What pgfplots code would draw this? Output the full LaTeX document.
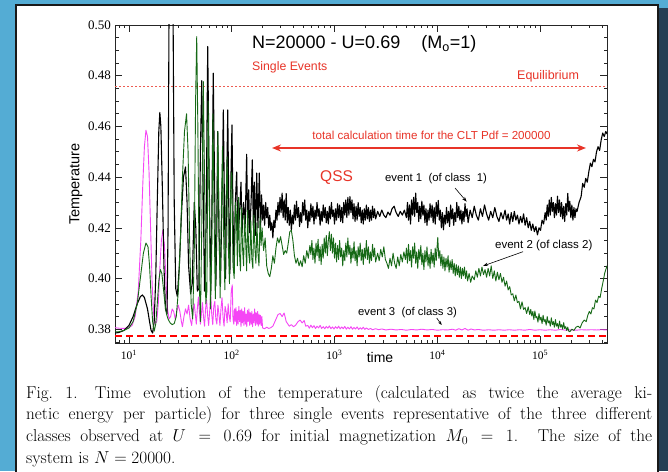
\documentclass[border=0pt]{standalone}
\usepackage{fontspec}
\usepackage{pgfplots}
\pgfplotsset{compat=1.18}
\usetikzlibrary{arrows.meta}
\newfontfamily\arial{Liberation Sans}
\newfontfamily\timesf{Liberation Serif}
\definecolor{bgblue}{RGB}{84,172,212}
\definecolor{shadowc}{RGB}{38,62,84}
\definecolor{qred}{RGB}{232,52,40}
\definecolor{dgreen}{RGB}{22,105,22}
\definecolor{mag}{RGB}{245,70,245}
\begin{document}
\begin{tikzpicture}[x=1pt,y=1pt]
\useasboundingbox (0pt,0pt) rectangle (668pt,471pt);
\fill[bgblue] (0pt,0pt) rectangle (668pt,471pt);
\fill[shadowc] (656pt,0pt) rectangle (668pt,463pt);
\fill[white] (16pt,0pt) rectangle (658pt,466pt);
\draw[black!90, line width=1.6pt] (16pt,-2pt) -- (16pt,466pt) -- (658pt,466pt) -- (658pt,-2pt);
\begin{axis}[
  at={(115pt,128pt)}, anchor=south west, scale only axis,
  width=492pt, height=318pt,
  xmin=0.8637, xmax=5.652, ymin=0.37456, ymax=0.50,
  axis line style={line width=0.7pt, black!85},
  tick align=inside,
  major tick length=7pt, minor tick length=3.5pt,
  every tick/.style={black!85, line width=0.6pt},
  xtick={1,2,3,4,5},
  xticklabels={{10\textsuperscript{1}},{10\textsuperscript{2}},{10\textsuperscript{3}},{10\textsuperscript{4}},{10\textsuperscript{5}}},
  minor xtick={0.90309,0.95424,
    1.30103,1.47712,1.60206,1.69897,1.77815,1.84510,1.90309,1.95424,
    2.30103,2.47712,2.60206,2.69897,2.77815,2.84510,2.90309,2.95424,
    3.30103,3.47712,3.60206,3.69897,3.77815,3.84510,3.90309,3.95424,
    4.30103,4.47712,4.60206,4.69897,4.77815,4.84510,4.90309,4.95424,
    5.30103,5.47712,5.60206},
  ytick={0.38,0.40,0.42,0.44,0.46,0.48,0.50},
  yticklabels={0.38,0.40,0.42,0.44,0.46,0.48,0.50},
  minor ytick={0.375,0.385,0.39,0.395,0.405,0.41,0.415,0.425,0.43,0.435,0.445,0.45,0.455,0.465,0.47,0.475,0.485,0.49,0.495},
  xticklabel style={font=\timesf\fontsize{11.5}{12}\selectfont, inner sep=0pt, yshift=-7pt},
  yticklabel style={font=\timesf\fontsize{13}{14}\selectfont, inner sep=0pt, xshift=-4pt},
  xlabel={time},
  xlabel style={at={(axis description cs:0.5386,0)}, anchor=base, yshift=-19.5pt, font=\arial\fontsize{14}{16}\selectfont},
  ylabel={Temperature},
  ylabel style={at={(axis description cs:-0.0793,0.5)}, anchor=center, font=\arial\fontsize{14.5}{16}\selectfont},
  every axis plot/.append style={line join=round},
]
% equilibrium
\addplot[color=qred!80, line width=0.6pt, dash pattern=on 1.5pt off 2.5pt] coordinates {(0.8637,0.476)(5.652,0.476)};
% event 3 (magenta)
\addplot[mag, line width=0.9pt] coordinates {
(0.864,0.3806)(0.90,0.3804)(0.95,0.3803)(1.00,0.3806)(1.03,0.3815)(1.06,0.3850)(1.09,0.3950)(1.115,0.4150)(1.135,0.4380)(1.15,0.4520)(1.165,0.4585)(1.18,0.4560)(1.195,0.4420)(1.21,0.4200)(1.225,0.3980)(1.24,0.3860)(1.255,0.3822)(1.27,0.3830)(1.285,0.3900)(1.30,0.4040)(1.315,0.4150)(1.33,0.4190)(1.345,0.4130)(1.36,0.3990)(1.375,0.3880)(1.39,0.3840)(1.405,0.3850)(1.42,0.3880)(1.435,0.3870)(1.45,0.3840)(1.465,0.3870)(1.48,0.3895)(1.495,0.3870)(1.51,0.3830)(1.52,0.3810)(1.535,0.3850)(1.55,0.3880)(1.565,0.3860)(1.58,0.3895)(1.595,0.3840)(1.61,0.3815)(1.62,0.3860)(1.635,0.3900)(1.645,0.3860)(1.655,0.3820)(1.665,0.3880)(1.675,0.3927)(1.685,0.3870)(1.695,0.3820)(1.705,0.3860)(1.715,0.3905)(1.725,0.3850)(1.735,0.3812)(1.745,0.3880)(1.755,0.3915)(1.765,0.3855)(1.775,0.3815)(1.785,0.3870)(1.795,0.3935)(1.805,0.3860)(1.815,0.3818)(1.825,0.3890)(1.835,0.3910)(1.845,0.3840)(1.855,0.3820)(1.865,0.3895)(1.875,0.3860)(1.885,0.3815)(1.895,0.3880)(1.905,0.3925)(1.915,0.3850)(1.925,0.3812)(1.935,0.3890)(1.945,0.3870)(1.955,0.3825)(1.965,0.3900)(1.975,0.3850)(1.985,0.3830)(1.995,0.3950)(2.005,0.3975)(2.012,0.3840)(2.02,0.3820)(2.027,0.3880)(2.034,0.3830)(2.041,0.3885)(2.048,0.3815)(2.055,0.3870)(2.062,0.3820)(2.069,0.3890)(2.076,0.3830)(2.083,0.3875)(2.09,0.3810)(2.097,0.3880)(2.104,0.3825)(2.111,0.3870)(2.118,0.3815)(2.125,0.3885)(2.132,0.3820)(2.139,0.3860)(2.146,0.3810)(2.153,0.3875)(2.16,0.3830)(2.167,0.3880)(2.174,0.3815)(2.181,0.3865)(2.188,0.3820)(2.195,0.3870)(2.202,0.3810)(2.209,0.3860)(2.216,0.3825)(2.223,0.3880)(2.23,0.3815)(2.237,0.3865)(2.244,0.3820)(2.251,0.3870)(2.258,0.3812)(2.265,0.3860)(2.272,0.3820)(2.279,0.3855)(2.286,0.3815)(2.293,0.3850)(2.30,0.3805)(2.32,0.3802)(2.34,0.3808)(2.36,0.3803)(2.38,0.3806)(2.40,0.3812)(2.42,0.3830)(2.45,0.3858)(2.47,0.3862)(2.49,0.3850)(2.51,0.3864)(2.53,0.3830)(2.56,0.3812)(2.58,0.3818)(2.60,0.3810)(2.62,0.3815)(2.645,0.3830)(2.665,0.3836)(2.685,0.3825)(2.705,0.3834)(2.72,0.3812)(2.74,0.3815)(2.755,0.3804)(2.77,0.3816)(2.785,0.3806)(2.80,0.3814)(2.815,0.3803)(2.83,0.3812)(2.845,0.3805)(2.86,0.3815)(2.875,0.3803)(2.89,0.3810)(2.905,0.3802)(2.92,0.3811)(2.935,0.3804)(2.95,0.3813)(2.965,0.3802)(2.98,0.3809)(2.995,0.3801)(3.01,0.3810)(3.025,0.3803)(3.04,0.3812)(3.055,0.3801)(3.07,0.3809)(3.085,0.3802)(3.10,0.3811)(3.115,0.3800)(3.13,0.3808)(3.145,0.3801)(3.16,0.3810)(3.175,0.3800)(3.19,0.3807)(3.205,0.3801)(3.22,0.3809)(3.235,0.3799)(3.25,0.3806)(3.265,0.3800)(3.28,0.3808)(3.295,0.3799)(3.31,0.3805)(3.33,0.3799)(3.35,0.3803)(3.37,0.3798)(3.40,0.3802)(3.43,0.3798)(3.46,0.3801)(3.50,0.3797)(3.55,0.3800)(3.60,0.3797)(3.65,0.3799)(3.70,0.3796)(3.75,0.3799)(3.80,0.3797)(3.85,0.3800)(3.90,0.3797)(3.95,0.3799)(4.00,0.3796)(4.05,0.3798)(4.10,0.3797)(4.15,0.3800)(4.18,0.3796)(4.21,0.3802)(4.24,0.3797)(4.27,0.3803)(4.30,0.3796)(4.33,0.3801)(4.36,0.3797)(4.40,0.3799)(4.45,0.3796)(4.50,0.3798)(4.55,0.3796)(4.60,0.3798)(4.65,0.3796)(4.70,0.3798)(4.75,0.3796)(4.80,0.3798)(4.85,0.3796)(4.90,0.3799)(4.95,0.3796)(5.00,0.3798)(5.05,0.3796)(5.10,0.3798)(5.15,0.3796)(5.20,0.3799)(5.25,0.3796)(5.30,0.3798)(5.35,0.3796)(5.40,0.3798)(5.45,0.3797)(5.50,0.3798)(5.55,0.3797)(5.60,0.3798)(5.652,0.3797)
};
% event 1 (black)
\addplot[black, line width=1.1pt] coordinates {
(0.864,0.3785)(0.90,0.3787)(0.95,0.3795)(1.00,0.3815)(1.04,0.3850)(1.08,0.3900)(1.11,0.3928)(1.13,0.3935)(1.15,0.3925)(1.18,0.3880)(1.20,0.3830)(1.215,0.3795)(1.23,0.3785)(1.245,0.3830)(1.26,0.4000)(1.275,0.4300)(1.29,0.4580)(1.30,0.4655)(1.31,0.4600)(1.325,0.4350)(1.34,0.4050)(1.355,0.3880)(1.37,0.3860)(1.38,0.4200)(1.39,0.5100)(1.41,0.5300)(1.428,0.5100)(1.44,0.4300)(1.455,0.3960)(1.47,0.3930)(1.49,0.4050)(1.51,0.4250)(1.53,0.4400)(1.55,0.4440)(1.565,0.4300)(1.58,0.4050)(1.60,0.3940)(1.615,0.3980)(1.635,0.4300)(1.65,0.4200)(1.665,0.3950)(1.68,0.3960)(1.695,0.4500)(1.708,0.4780)(1.72,0.4400)(1.735,0.3950)(1.75,0.4200)(1.766,0.4915)(1.78,0.4400)(1.795,0.3950)(1.805,0.4200)(1.82,0.4810)(1.835,0.4300)(1.845,0.3970)(1.855,0.4200)(1.863,0.4580)(1.875,0.4200)(1.89,0.3980)(1.905,0.4300)(1.918,0.4665)(1.93,0.4250)(1.94,0.4000)(1.95,0.4350)(1.961,0.4665)(1.972,0.4250)(1.982,0.4020)(1.992,0.4400)(2.002,0.4606)(2.012,0.4250)(2.022,0.4050)(2.035,0.4300)(2.048,0.4420)(2.06,0.4150)(2.075,0.4250)(2.09,0.4380)(2.10,0.4180)(2.115,0.4300)(2.13,0.4200)(2.145,0.4490)(2.155,0.4200)(2.165,0.4350)(2.175,0.4180)(2.188,0.4300)(2.20,0.4468)(2.21,0.4200)(2.22,0.4380)(2.23,0.4170)(2.243,0.4416)(2.255,0.4200)(2.268,0.4416)
(2.28,0.4200)(2.29,0.4330)(2.30,0.4230)(2.31,0.4290)(2.32,0.4210)(2.33,0.4300)(2.34,0.4240)(2.35,0.4280)(2.36,0.4200)(2.37,0.4250)(2.38,0.4190)(2.39,0.4220)(2.40,0.4160)(2.41,0.4230)(2.42,0.4200)(2.43,0.4270)(2.44,0.4230)(2.45,0.4300)(2.46,0.4250)(2.47,0.4320)(2.48,0.4260)(2.49,0.4337)(2.50,0.4240)(2.51,0.4310)(2.52,0.4230)(2.53,0.4335)(2.54,0.4220)(2.55,0.4280)(2.56,0.4210)(2.57,0.4270)(2.58,0.4190)(2.59,0.4250)(2.60,0.4215)(2.61,0.4290)(2.62,0.4230)(2.63,0.4305)(2.64,0.4240)(2.65,0.4280)(2.66,0.4205)(2.67,0.4260)(2.68,0.4220)(2.69,0.4300)(2.70,0.4250)(2.71,0.4310)(2.72,0.4230)(2.73,0.4270)(2.74,0.4200)(2.75,0.4265)(2.76,0.4225)(2.77,0.4295)(2.78,0.4240)(2.79,0.4285)(2.80,0.4215)(2.81,0.4270)(2.82,0.4235)(2.83,0.4300)(2.84,0.4245)(2.85,0.4275)(2.86,0.4210)(2.87,0.4265)(2.88,0.4225)(2.89,0.4290)(2.90,0.4240)(2.91,0.4280)(2.92,0.4220)(2.93,0.4265)(2.94,0.4215)(2.95,0.4285)(2.96,0.4235)(2.97,0.4300)(2.98,0.4245)(2.99,0.4270)(3.00,0.4215)(3.01,0.4275)(3.02,0.4230)(3.03,0.4295)(3.04,0.4240)(3.05,0.4290)(3.06,0.4225)(3.07,0.4280)(3.08,0.4220)(3.09,0.4300)(3.10,0.4250)(3.11,0.4310)(3.12,0.4240)(3.13,0.4320)(3.14,0.4250)(3.15,0.4323)(3.16,0.4260)(3.17,0.4310)(3.18,0.4235)(3.19,0.4295)(3.20,0.4225)(3.21,0.4285)(3.22,0.4230)(3.23,0.4300)(3.24,0.4245)(3.25,0.4280)(3.26,0.4220)(3.27,0.4270)(3.28,0.4215)(3.29,0.4275)(3.30,0.4230)(3.31,0.4290)(3.32,0.4235)(3.33,0.4280)(3.34,0.4225)(3.35,0.4270)(3.36,0.4230)(3.37,0.4285)(3.38,0.4240)(3.39,0.4275)(3.40,0.4235)
(3.42,0.4265)(3.44,0.4245)(3.46,0.4270)(3.48,0.4250)(3.50,0.4240)(3.52,0.4262)(3.54,0.4250)(3.56,0.4275)(3.58,0.4285)(3.60,0.4260)(3.62,0.4245)(3.64,0.4265)(3.66,0.4250)(3.68,0.4270)
(3.70,0.4240)(3.71,0.4300)(3.72,0.4230)(3.73,0.4290)(3.74,0.4215)(3.75,0.4310)(3.76,0.4250)(3.77,0.4320)(3.78,0.4245)(3.79,0.4337)(3.80,0.4260)(3.81,0.4300)(3.82,0.4225)(3.83,0.4285)(3.84,0.4235)(3.85,0.4305)(3.86,0.4250)(3.87,0.4290)(3.88,0.4220)(3.89,0.4275)(3.90,0.4210)(3.91,0.4270)(3.92,0.4230)(3.93,0.4295)
(3.94,0.4240)(3.95,0.4290)(3.96,0.4220)(3.97,0.4280)(3.98,0.4215)(3.99,0.4300)(4.00,0.4245)(4.01,0.4308)(4.02,0.4230)(4.03,0.4270)(4.04,0.4200)(4.05,0.4260)(4.06,0.4192)(4.07,0.4250)(4.08,0.4215)(4.09,0.4280)(4.10,0.4220)(4.11,0.4265)(4.12,0.4205)(4.13,0.4290)(4.14,0.4235)(4.15,0.4275)(4.16,0.4210)(4.17,0.4260)(4.18,0.4225)(4.19,0.4300)(4.20,0.4240)(4.21,0.4285)(4.22,0.4230)(4.23,0.4270)(4.24,0.4215)(4.25,0.4265)(4.26,0.4225)(4.27,0.4295)(4.28,0.4245)(4.29,0.4275)(4.30,0.4220)
(4.32,0.4270)(4.34,0.4240)(4.36,0.4285)(4.38,0.4250)(4.40,0.4230)(4.42,0.4275)(4.44,0.4245)(4.46,0.4290)(4.48,0.4255)(4.50,0.4230)(4.52,0.4265)(4.54,0.4240)(4.56,0.4280)(4.58,0.4245)(4.60,0.4225)(4.62,0.4260)(4.64,0.4235)
(4.66,0.4270)(4.675,0.4230)(4.69,0.4255)(4.705,0.4215)(4.72,0.4260)(4.735,0.4225)(4.75,0.4265)(4.765,0.4230)(4.78,0.4250)(4.795,0.4215)(4.81,0.4245)(4.825,0.4220)(4.84,0.4255)(4.855,0.4210)(4.87,0.4240)(4.885,0.4200)(4.90,0.4225)
(4.915,0.4190)(4.93,0.4215)(4.945,0.4185)(4.96,0.4205)(4.975,0.4172)(4.99,0.4200)(5.005,0.4190)(5.02,0.4230)(5.035,0.4215)
(5.05,0.4260)(5.06,0.4230)(5.07,0.4290)(5.08,0.4245)(5.09,0.4310)(5.10,0.4250)(5.11,0.4320)(5.12,0.4265)(5.13,0.4300)(5.14,0.4240)(5.15,0.4295)(5.16,0.4250)(5.17,0.4325)(5.18,0.4260)(5.19,0.4310)(5.20,0.4245)(5.21,0.4300)(5.22,0.4235)(5.23,0.4285)(5.24,0.4225)(5.25,0.4295)(5.26,0.4250)(5.27,0.4336)(5.28,0.4265)(5.29,0.4305)(5.30,0.4240)(5.31,0.4290)(5.32,0.4230)(5.33,0.4280)(5.34,0.4240)(5.35,0.4275)(5.36,0.4264)
(5.38,0.4300)(5.40,0.4323)(5.415,0.4375)(5.43,0.4360)(5.445,0.4395)(5.46,0.4380)(5.475,0.4421)(5.49,0.4455)(5.505,0.4441)(5.52,0.4470)(5.535,0.4460)(5.55,0.4500)(5.565,0.4520)(5.58,0.4505)(5.595,0.4546)(5.61,0.4574)(5.625,0.4560)(5.64,0.4580)(5.652,0.4570)
};
% event 2 (green)
\addplot[dgreen, line width=0.9pt] coordinates {
(0.864,0.3790)(0.90,0.3790)(0.95,0.3795)(1.00,0.3805)(1.04,0.3830)(1.08,0.3900)(1.11,0.4000)(1.14,0.4100)(1.165,0.4140)(1.185,0.4125)(1.20,0.4050)(1.215,0.3930)(1.23,0.3830)(1.245,0.3792)(1.26,0.3820)(1.275,0.3900)(1.29,0.3990)(1.305,0.4035)(1.32,0.4020)(1.335,0.3960)(1.35,0.3900)(1.365,0.3860)(1.38,0.3840)(1.40,0.3825)(1.42,0.3818)(1.44,0.3822)(1.46,0.3850)(1.48,0.3950)(1.50,0.4150)(1.52,0.4400)(1.54,0.4580)(1.56,0.4650)(1.575,0.4500)(1.59,0.4150)(1.605,0.3900)(1.62,0.3840)(1.635,0.4100)(1.648,0.4700)(1.659,0.4954)(1.67,0.4600)(1.683,0.4000)(1.695,0.3830)(1.708,0.4200)(1.723,0.4777)(1.735,0.4400)(1.747,0.3900)(1.758,0.3950)(1.77,0.4700)(1.782,0.4300)(1.793,0.3880)(1.805,0.4100)(1.817,0.4650)(1.828,0.4250)(1.84,0.3920)(1.852,0.4200)(1.865,0.4580)(1.876,0.4200)(1.887,0.3923)(1.898,0.4250)(1.91,0.4520)(1.922,0.4150)(1.933,0.3955)(1.944,0.4300)(1.955,0.4480)(1.967,0.4120)(1.978,0.3980)(1.99,0.4350)(2.00,0.4420)(2.012,0.4050)(2.024,0.4000)(2.035,0.4300)(2.045,0.4250)(2.055,0.4050)(2.065,0.4320)(2.075,0.4100)(2.085,0.4030)(2.095,0.4280)(2.105,0.4120)(2.115,0.4050)(2.125,0.4250)(2.135,0.4150)(2.145,0.4030)(2.155,0.4270)(2.165,0.4100)(2.175,0.4060)(2.185,0.4230)(2.195,0.4080)(2.205,0.4040)(2.215,0.4250)(2.225,0.4120)(2.235,0.4060)(2.245,0.4220)(2.255,0.4100)(2.265,0.4050)(2.275,0.4240)(2.285,0.4130)(2.295,0.4200)(2.31,0.4110)(2.325,0.4160)(2.34,0.4050)(2.355,0.4020)(2.37,0.4007)(2.385,0.4040)(2.40,0.4090)(2.415,0.4060)(2.43,0.4120)(2.445,0.4160)(2.46,0.4140)(2.475,0.4165)(2.49,0.4130)(2.505,0.4095)(2.52,0.4110)(2.535,0.4100)(2.55,0.4140)(2.565,0.4185)(2.58,0.4190)(2.595,0.4150)(2.61,0.4090)(2.625,0.4060)(2.64,0.4080)(2.655,0.4050)(2.67,0.4070)(2.685,0.4046)(2.70,0.4090)(2.715,0.4060)(2.73,0.4110)(2.745,0.4080)(2.76,0.4130)
(2.77,0.4095)(2.78,0.4150)(2.79,0.4075)(2.80,0.4120)(2.81,0.4060)(2.82,0.4140)(2.83,0.4090)(2.84,0.4155)(2.85,0.4070)(2.86,0.4125)(2.87,0.4055)(2.88,0.4135)(2.89,0.4080)(2.90,0.4160)(2.91,0.4100)(2.92,0.4170)(2.93,0.4090)(2.94,0.4150)(2.95,0.4185)(2.96,0.4110)(2.97,0.4175)(2.98,0.4100)(2.99,0.4160)(3.00,0.4080)(3.01,0.4140)(3.02,0.4065)(3.03,0.4130)(3.04,0.4075)(3.05,0.4150)(3.06,0.4085)(3.07,0.4120)(3.08,0.4050)(3.09,0.4110)(3.10,0.4070)(3.11,0.4140)(3.12,0.4085)(3.13,0.4160)(3.14,0.4095)(3.15,0.4130)(3.16,0.4060)(3.17,0.4120)(3.18,0.4080)(3.19,0.4145)(3.20,0.4070)(3.21,0.4110)(3.22,0.4050)(3.23,0.4125)(3.24,0.4085)(3.25,0.4140)(3.26,0.4070)(3.27,0.4115)(3.28,0.4055)(3.29,0.4120)(3.30,0.4080)(3.31,0.4150)(3.32,0.4075)(3.33,0.4125)(3.34,0.4060)(3.35,0.4105)(3.36,0.4070)(3.37,0.4135)(3.38,0.4085)(3.39,0.4120)(3.40,0.4065)
(3.42,0.4100)(3.435,0.4070)(3.45,0.4115)(3.465,0.4085)(3.48,0.4125)(3.495,0.4075)(3.51,0.4060)(3.525,0.4040)(3.54,0.4080)(3.555,0.4050)(3.57,0.4100)(3.585,0.4060)(3.60,0.4040)(3.615,0.4085)(3.63,0.4050)(3.645,0.4095)(3.66,0.4065)(3.675,0.4105)(3.69,0.4075)
(3.70,0.4120)(3.71,0.4060)(3.72,0.4135)(3.73,0.4070)(3.74,0.4110)(3.75,0.4045)(3.76,0.4125)(3.77,0.4080)(3.78,0.4140)(3.79,0.4060)(3.80,0.4105)(3.81,0.4040)(3.82,0.4115)(3.83,0.4075)(3.84,0.4130)(3.85,0.4055)(3.86,0.4100)(3.87,0.4035)(3.88,0.4110)(3.89,0.4065)(3.90,0.4125)(3.91,0.4050)(3.92,0.4095)(3.93,0.4040)(3.94,0.4115)(3.95,0.4060)(3.96,0.4100)(3.97,0.4045)(3.98,0.4120)(3.99,0.4070)(4.00,0.4135)(4.005,0.4162)(4.015,0.4080)
(4.025,0.4110)(4.035,0.4050)(4.045,0.4095)(4.055,0.4040)(4.065,0.4085)(4.075,0.4030)(4.085,0.4080)(4.095,0.4045)(4.105,0.4090)(4.115,0.4025)(4.125,0.4070)(4.135,0.4035)(4.145,0.4075)(4.155,0.4020)(4.165,0.4060)(4.175,0.4010)(4.185,0.4055)(4.195,0.4015)(4.205,0.4050)(4.215,0.4005)(4.225,0.4045)(4.235,0.4000)(4.245,0.4040)(4.255,0.4010)(4.265,0.4045)(4.275,0.4000)(4.285,0.4030)(4.295,0.3990)(4.31,0.4020)(4.325,0.3985)(4.34,0.4010)
(4.36,0.3995)(4.375,0.4030)(4.39,0.4005)(4.405,0.4040)(4.42,0.4010)(4.435,0.4045)(4.45,0.4015)(4.465,0.4035)(4.48,0.4005)
(4.495,0.4040)(4.51,0.4010)(4.525,0.4050)(4.54,0.4000)(4.555,0.4030)(4.57,0.3990)(4.585,0.4025)(4.60,0.3995)(4.615,0.4020)(4.63,0.3985)(4.645,0.4005)(4.66,0.3970)(4.675,0.3990)
(4.69,0.3955)(4.705,0.3968)(4.72,0.3935)(4.735,0.3940)(4.75,0.3912)(4.765,0.3935)(4.78,0.3905)(4.795,0.3910)(4.81,0.3880)(4.825,0.3908)(4.84,0.3878)(4.855,0.3885)(4.87,0.3862)(4.885,0.3888)(4.90,0.3858)
(4.91,0.3878)(4.92,0.3852)(4.93,0.3870)(4.94,0.3838)(4.95,0.3872)(4.96,0.3845)(4.97,0.3850)(4.98,0.3828)(4.99,0.3862)(5.00,0.3836)(5.01,0.3848)(5.02,0.3822)(5.03,0.3855)(5.04,0.3830)(5.05,0.3838)(5.06,0.3816)(5.07,0.3850)(5.08,0.3825)(5.09,0.3833)(5.10,0.3812)(5.11,0.3845)(5.12,0.3818)(5.13,0.3830)(5.14,0.3808)(5.15,0.3838)(5.16,0.3812)(5.17,0.3822)(5.18,0.3803)(5.19,0.3832)(5.20,0.3808)(5.21,0.3818)(5.22,0.3800)(5.23,0.3826)(5.24,0.3803)(5.25,0.3810)(5.26,0.3795)(5.27,0.3808)(5.28,0.3792)(5.29,0.3790)
(5.31,0.3800)(5.33,0.3795)(5.35,0.3808)(5.37,0.3812)(5.39,0.3805)(5.41,0.3825)(5.43,0.3836)(5.45,0.3830)(5.465,0.3855)(5.48,0.3870)(5.495,0.3860)(5.51,0.3885)(5.525,0.3880)(5.54,0.3915)(5.555,0.3905)(5.57,0.3930)(5.585,0.3925)(5.60,0.3960)(5.615,0.3990)(5.63,0.4022)(5.652,0.4050)
};
% lower reference line
\addplot[draw=red, line width=2pt, dash pattern=on 7pt off 4pt] coordinates {(0.8637,0.3775)(5.652,0.3775)};
\end{axis}
% annotations
\node[anchor=base west, inner sep=0, font=\arial\fontsize{18}{20}\selectfont] at (252pt,422pt) {N=20000 - U=0.69\hspace{21pt}(M\textsubscript{o}=1)};
\node[anchor=base west, inner sep=0, text=qred, font=\arial\fontsize{12.3}{14}\selectfont] at (252pt,400.6pt) {Single Events};
\node[anchor=base west, inner sep=0, text=qred, font=\arial\fontsize{12.5}{14}\selectfont] at (517pt,391.6pt) {Equilibrium};
\node[anchor=base, inner sep=0, text=qred, font=\arial\fontsize{11.6}{13}\selectfont] at (431.5pt,331pt) {total calculation time for the CLT Pdf = 200000};
\draw[qred, line width=2pt, {Stealth[length=9pt,width=7pt]}-{Stealth[length=9pt,width=7pt]}] (272pt,323pt) -- (586pt,323pt);
\node[anchor=base west, inner sep=0, text=qred, font=\arial\fontsize{15.5}{17}\selectfont] at (320pt,289.5pt) {QSS};
\node[anchor=base west, inner sep=0, font=\arial\fontsize{11.3}{13}\selectfont] at (385pt,289pt) {event 1\ \ (of class\ \ 1)};
\node[anchor=base west, inner sep=0, font=\arial\fontsize{11.5}{13}\selectfont] at (495pt,222pt) {event 2 (of class 2)};
\node[anchor=base west, inner sep=0, font=\arial\fontsize{11.3}{13}\selectfont] at (358pt,155.5pt) {event 3\ \ (of class 3)};
\draw[-{Stealth[length=5pt,width=3.5pt]}, line width=0.6pt] (455pt,283pt) -- (466.7pt,269.3pt);
\draw[-{Stealth[length=5pt,width=3.5pt]}, line width=0.6pt] (523pt,219.3pt) -- (483pt,205pt);
\draw[-{Stealth[length=4pt,width=3pt]}, line width=0.6pt] (436.7pt,153pt) -- (441.7pt,146pt);
% caption, one node per line at the measured baselines
\begin{scope}[every node/.style={anchor=base west, inner sep=0, font=\fontsize{17.2}{21.6}\selectfont}]
\node at (26pt,72.7pt) {\hbox to 626pt{Fig.~1.\quad Time evolution of the temperature (calculated as twice the average ki-}};
\node at (26pt,51.1pt) {\hbox to 626pt{netic energy per particle) for three single events representative of the three different}};
\node at (26pt,29.5pt) {\hbox to 626pt{classes observed at $U = 0.69$ for initial magnetization $M_0 = 1$. The size of the}};
\node at (26pt,7.9pt) {system is $N = 20000$.};
\end{scope}
\end{tikzpicture}
\end{document}
